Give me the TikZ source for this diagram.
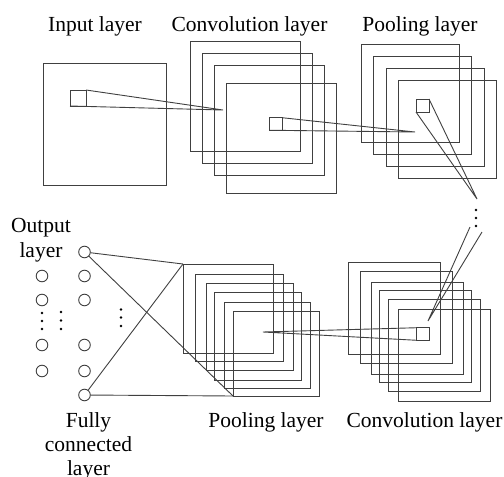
\documentclass[tikz,border=0pt]{standalone}
\usepackage{fontspec}
\setmainfont{Liberation Serif}
\definecolor{lc}{gray}{0.25}
\begin{document}
\begin{tikzpicture}[x=1pt,y=-1pt,
  sq/.style={draw=lc, line width=1pt, inner sep=0pt, outer sep=0pt},
  ln/.style={draw=lc, line width=0.9pt},
  neuron/.style={circle, draw=lc, line width=0.9pt, minimum size=11.6pt, inner sep=0pt, outer sep=0pt},
  lbl/.style={anchor=base, inner sep=0pt, font=\fontsize{21.5}{24}\selectfont},
  dotn/.style={circle, fill=black, inner sep=0pt, minimum size=2.6pt}]
\useasboundingbox (0,0) rectangle (504,477);
% ---- input layer
\node[sq, minimum width=123pt, minimum height=122pt] (inp) at (104.5,124) {};
\node[sq, minimum size=16pt] (ink) at (78,98) {};
\coordinate (a1) at (223,110);
\draw[ln] (ink.north east) -- (a1) -- (ink.south west);
% ---- convolution layer (top)
\foreach \n/\cx/\cy in {c1/245/96, c2/257/108, c3/269/120.5, c4/281.5/138.5}
  \node[sq, minimum size=110pt] (\n) at (\cx,\cy) {};
\node[sq, minimum width=13pt, minimum height=12.5pt] (ck) at (276,124) {};
\coordinate (a2) at (415,132);
\draw[ln] (ck.north east) -- (a2) -- (ck.south west);
% ---- pooling layer (top)
\foreach \n/\cx/\cy in {p1/410/93, p2/422/105.5, p3/435/117, p4/447/129}
  \node[sq, minimum size=98pt] (\n) at (\cx,\cy) {};
\node[sq, minimum size=13pt] (pk) at (422.5,105.5) {};
\coordinate (a3) at (477,199);
\draw[ln] (pk.north east) -- (a3) -- (pk.south west);
% ---- dots between
\foreach \i/\y in {1/210, 2/218, 3/226}
  \node[dotn] (vd\i) at (476,\y) {};
\coordinate (b1) at (470,227);
\coordinate (b2) at (482,232);
\coordinate (a4) at (428,321);
\draw[ln] (b1) -- (a4) -- (b2);
% ---- convolution layer (bottom)
\foreach \n/\cx/\cy in {d1/394.5/308, d2/406.5/317.5, d3/417.5/328.5, d4/425/336.5, d5/434.5/345.5, d6/444/355}
  \node[sq, minimum size=92pt] (\n) at (\cx,\cy) {};
\node[sq, minimum width=13pt, minimum height=12.5pt] (dk) at (422.5,334) {};
\coordinate (a5) at (263,332);
\draw[ln] (dk.north west) -- (a5) -- (dk.south west);
% ---- pooling layer (bottom)
\node[sq, minimum width=90pt, minimum height=89pt] (q1) at (228,308.5) {};
\node[sq, minimum width=88pt, minimum height=87pt] (q2) at (239,317.5) {};
\node[sq, minimum width=87pt, minimum height=87pt] (q3) at (249.5,326.5) {};
\node[sq, minimum width=87pt, minimum height=88pt] (q4) at (257.5,336) {};
\node[sq, minimum width=86pt, minimum height=86pt] (q5) at (267,345) {};
\node[sq, minimum width=86pt, minimum height=85pt] (q6) at (276,353.5) {};
% ---- fully connected layer
\foreach \i/\y in {1/252, 2/276, 3/300, 4/345, 5/371, 6/395}
  \node[neuron] (f\i) at (84.5,\y) {};
% ---- output layer
\foreach \i/\y in {1/276, 2/300, 3/345, 4/371}
  \node[neuron] (o\i) at (42,\y) {};
% ---- vertical dots
\foreach \i/\y in {1/313, 2/321, 3/329}
  \node[dotn] (ld\i) at (42,\y) {};
\foreach \i/\y in {1/312, 2/320.5, 3/329}
  \node[dotn] (md\i) at (61,\y) {};
\foreach \i/\y in {1/309.5, 2/317.5, 3/326}
  \node[dotn] (rd\i) at (121,\y) {};
% ---- connections fc -> pooling
\draw[ln] (f1) -- (q1.north west);
\draw[ln] (f1) -- (q6.south west);
\draw[ln] (f6) -- (q1.north west);
\draw[ln] (f6) -- (q6.south west);
% ---- labels
\node[lbl] (t1) at (95,31) {Input layer};
\node[lbl] (t2) at (249.5,31) {Convolution layer};
\node[lbl] (t3) at (420,31) {Pooling layer};
\node[lbl] (t4) at (41,232) {Output};
\node[lbl] (t5) at (41,257) {layer};
\node[lbl] (t6) at (88.5,427) {Fully};
\node[lbl] (t7) at (88.5,451) {connected};
\node[lbl] (t8) at (88.5,475) {layer};
\node[lbl] (t9) at (266,427) {Pooling layer};
\node[lbl] (t10) at (424.5,427) {Convolution layer};
\end{tikzpicture}
\end{document}
